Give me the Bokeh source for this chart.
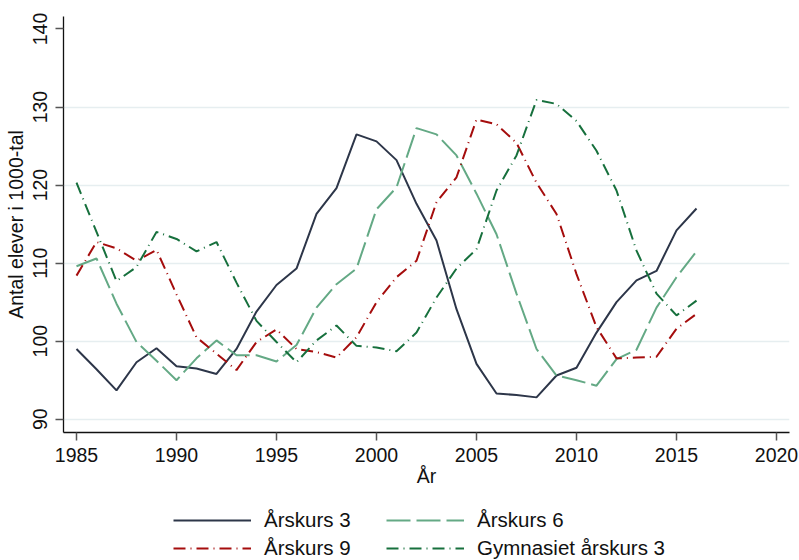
from bokeh.plotting import figure
from bokeh.layouts import column
from bokeh.models import Legend, LegendItem, FixedTicker, Range1d
from bokeh.embed import file_html
from bokeh.resources import INLINE

years = list(range(1985, 2017))
arskurs3 = [99.0, 96.4, 93.7, 97.3, 99.1, 96.8, 96.5, 95.8, 99.0, 103.8, 107.2, 109.3,
            116.3, 119.6, 126.5, 125.6, 123.2, 117.6, 112.9, 104.1, 97.1, 93.3, 93.1, 92.8,
            95.6, 96.6, 101.1, 105.0, 107.8, 109.0, 114.2, 117.0]
arskurs6 = [109.6, 110.6, 104.8, 99.9, 97.5, 95.0, 97.8, 100.1, 98.2, 98.2, 97.4, 99.5,
            104.3, 107.3, 109.3, 116.9, 119.7, 127.3, 126.5, 123.8, 118.9, 113.7, 106.1, 99.0,
            95.6, 95.0, 94.3, 97.7, 98.9, 104.3, 108.2, 111.5]
arskurs9 = [108.4, 112.7, 111.9, 110.3, 111.7, 106.0, 100.5, 98.4, 96.3, 99.9, 101.5, 99.0,
            98.6, 97.9, 100.5, 105.0, 108.2, 110.3, 117.8, 121.0, 128.4, 127.8, 125.4, 120.3,
            116.3, 108.6, 101.8, 97.8, 97.9, 98.0, 101.6, 103.5]
gymnasiet = [120.3, 114.0, 107.7, 109.5, 114.0, 113.1, 111.5, 112.7, 107.5, 102.6, 99.9, 97.3,
             100.1, 102.0, 99.4, 99.2, 98.7, 101.1, 105.6, 109.3, 111.8, 119.3, 123.8, 130.9,
             130.4, 128.2, 124.4, 119.3, 111.6, 106.1, 103.3, 105.2]

series_names = ["Årskurs 3", "Årskurs 6", "Årskurs 9", "Gymnasiet årskurs 3"]
x_ticks = [1985, 1990, 1995, 2000, 2005, 2010, 2015, 2020]
y_ticks = [90, 100, 110, 120, 130, 140]
y_grid = [90, 100, 110, 120, 130]

FONT = "Liberation Sans"

styles = [
    dict(line_color="#2d3649", line_width=2),
    dict(line_color="#64a985", line_width=2, line_dash="24 6"),
    dict(line_color="#a50d0d", line_width=2, line_dash="12 5 1 5"),
    dict(line_color="#17703d", line_width=2, line_dash="12 5 1 5"),
]
series = [arskurs3, arskurs6, arskurs9, gymnasiet]

p = figure(width=799, height=490, output_backend="svg", toolbar_location=None,
           x_range=Range1d(1984.35, 2020.65), y_range=Range1d(88.3, 141.6),
           min_border_left=63, min_border_right=10, min_border_top=16, min_border_bottom=58)
p.outline_line_color = None
p.background_fill_color = "white"
p.border_fill_color = "white"

for vals, st in zip(series, styles):
    p.line(years, vals, **st)

# axes
p.xaxis.ticker = FixedTicker(ticks=x_ticks)
p.yaxis.ticker = FixedTicker(ticks=y_ticks)
for ax in (p.xaxis[0], p.yaxis[0]):
    ax.axis_line_color = "#111111"
    ax.axis_line_width = 1.3
    ax.major_tick_line_color = "#555555"
    ax.major_tick_line_width = 1.5
    ax.major_tick_out = 8
    ax.major_tick_in = 0
    ax.minor_tick_line_color = None
    ax.major_label_text_font = FONT
    ax.major_label_text_font_size = "19.5px"
    ax.major_label_text_color = "#111111"
    ax.axis_label_text_font = FONT
    ax.axis_label_text_font_size = "19.5px"
    ax.axis_label_text_font_style = "normal"
    ax.axis_label_text_color = "#111111"

p.xaxis.axis_label = "År"
p.yaxis.axis_label = "Antal elever i 1000-tal"
p.xaxis.major_label_standoff = 7
p.xaxis.axis_label_standoff = 0
p.yaxis.major_label_orientation = "vertical"
p.yaxis.major_label_standoff = 8
p.yaxis.axis_label_standoff = 4

p.xgrid.visible = False
p.ygrid.ticker = FixedTicker(ticks=y_grid)
p.ygrid.grid_line_color = "#e6eef0"
p.ygrid.grid_line_width = 1.6

# legend strip below the chart (series drawn out of view; only the legend shows)
q = figure(width=799, height=70, output_backend="svg", toolbar_location=None,
           x_range=Range1d(0, 1), y_range=Range1d(0, 1),
           min_border=0, min_border_left=0, min_border_right=0,
           min_border_top=0, min_border_bottom=0)
q.axis.visible = False
q.grid.visible = False
q.outline_line_color = None
q.background_fill_color = "white"
q.border_fill_color = "white"
legend_renderers = [q.line(years, vals, **st) for vals, st in zip(series, styles)]

def make_legend(items, vy):
    return Legend(items=items, location=(110, vy), orientation="horizontal",
                  glyph_width=78, glyph_height=20, label_standoff=13, label_width=122,
                  label_height=20, spacing=0, padding=0, margin=0,
                  label_text_font=FONT, label_text_font_size="20.5px",
                  label_text_color="#111111",
                  border_line_color=None, background_fill_alpha=0)

leg1 = make_legend([LegendItem(label=series_names[0], renderers=[legend_renderers[0]]),
                    LegendItem(label=series_names[1], renderers=[legend_renderers[1]])], 28)
leg2 = make_legend([LegendItem(label=series_names[2], renderers=[legend_renderers[2]]),
                    LegendItem(label=series_names[3], renderers=[legend_renderers[3]])], 0)
q.add_layout(leg1, "center")
q.add_layout(leg2, "center")

layout = column(p, q, spacing=0)
open("out.html", "w").write(file_html(layout, INLINE))
